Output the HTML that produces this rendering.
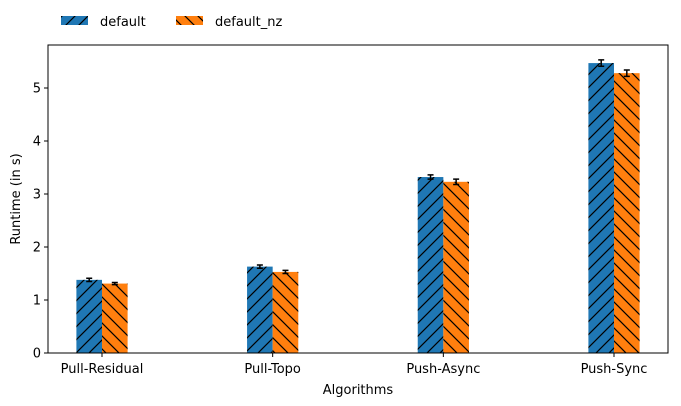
<!DOCTYPE html>
<html><head><meta charset="utf-8"><style>
body{margin:0;background:#fff}
svg{display:block;font-family:"DejaVu Sans","Liberation Sans",sans-serif}
</style></head><body>
<svg id="c" width="681" height="406" xmlns="http://www.w3.org/2000/svg">
<defs>
<pattern id="hf" patternUnits="userSpaceOnUse" width="13" height="13">
<path d="M-1,14 L14,-1 M-3,3 L3,-3 M10,16 L16,10" stroke="#000" stroke-width="1.2"/></pattern>
<pattern id="hb" patternUnits="userSpaceOnUse" width="13" height="13">
<path d="M-1,-1 L14,14 M10,-3 L16,3 M-3,10 L3,16" stroke="#000" stroke-width="1.2"/></pattern>
</defs>
<g id="plot"></g>
</svg>
<script>
const categories=["Pull-Residual","Pull-Topo","Push-Async","Push-Sync"];
const defaultVals=[1.38,1.63,3.32,5.47];
const defaultErr=[0.03,0.03,0.04,0.06];
const nzVals=[1.31,1.53,3.23,5.28];
const nzErr=[0.02,0.03,0.05,0.06];
const yTicks=[0,1,2,3,4,5];
const seriesNames=["default","default_nz"];

const NS="http://www.w3.org/2000/svg";
const g=document.getElementById('plot');
const L=48,R=668,T=45,B=353;
const y=v=>B-v*53;
const x=i=>102+i*170.67;
const bw=25.6;
function mk(t,a,p){const e=document.createElementNS(NS,t);for(const k in a)e.setAttribute(k,a[k]);(p||g).appendChild(e);return e;}
function txt(s,a){const e=mk('text',a);e.textContent=s;return e;}

const series=[[defaultVals,defaultErr,'#1f77b4','url(#hf)',-1],[nzVals,nzErr,'#ff7f0e','url(#hb)',0]];
series.forEach(([vals,errs,col,pat,off],si)=>{
  vals.forEach((v,i)=>{
    const x0=x(i)+off*bw;
    const b=mk('rect',{x:x0,y:y(v),width:bw,height:B-y(v),fill:col});
    
    
    const h=mk('rect',{x:x0,y:y(v),width:bw,height:B-y(v),fill:pat});
    
    
    const cx=x0+bw/2,e=errs[i];
    const eb=mk('path',{d:`M${cx},${y(v+e)}V${y(v-e)}M${cx-3},${y(v+e)}H${cx+3}M${cx-3},${y(v-e)}H${cx+3}`,stroke:'#000','stroke-width':1.5,fill:'none'});
    
    
  });
});
const fr=mk('rect',{x:L,y:T,width:R-L,height:B-T,fill:'none',stroke:'#000','stroke-width':1});


yTicks.forEach(t=>{
  const l=mk('line',{x1:L-4,x2:L,y1:y(t),y2:y(t),stroke:'#000'});
  
  
  const s=txt(String(t),{x:L-7,y:y(t)+4.5,'text-anchor':'end','font-size':13});
  
  
});
categories.forEach((c,i)=>{
  const l=mk('line',{x1:x(i),x2:x(i),y1:B,y2:B+4,stroke:'#000'});
  
  
  const s=txt(c,{x:x(i),y:B+20,'text-anchor':'middle','font-size':13});
  
  
});
const xt=txt('Algorithms',{x:358,y:394,'text-anchor':'middle','font-size':13});


const yt=txt('Runtime (in s)',{x:20,y:199,'text-anchor':'middle','font-size':13,transform:'rotate(-90 20 199)'});


const lx=[61,176];
series.forEach(([v,e,col,pat],si)=>{
  const p=mk('rect',{x:lx[si],y:16,width:27,height:9,fill:col});
  
  
  mk('rect',{x:lx[si],y:16,width:27,height:9,fill:pat});
  const s=txt(seriesNames[si],{x:lx[si]+39,y:26,'font-size':13});
  
  
});
</script>
</body></html>
